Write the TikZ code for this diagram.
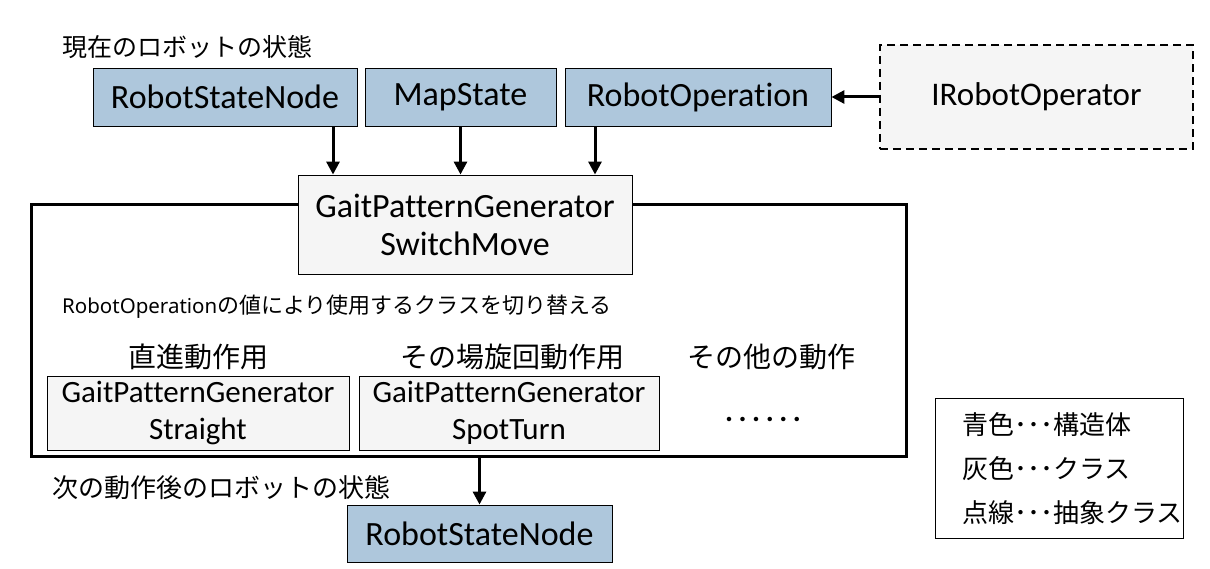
\documentclass[tikz,border=0pt]{standalone}
\usepackage{fontspec}
\setmainfont{Carlito}[Ligatures=NoCommon]
\newfontfamily\jp{Noto Sans CJK JP}
\newfontfamily\wide{Noto Sans}
\usetikzlibrary{arrows.meta}
\definecolor{blu}{RGB}{174,199,220}
\definecolor{gry}{RGB}{245,245,245}
\tikzset{
  fs/.style={font=\fontsize{#1}{#1}\selectfont},
  bluebox/.style={draw, fill=blu, line width=0.9pt, inner sep=0pt, fs=34},
  graybox/.style={draw, fill=gry, line width=0.9pt, inner sep=0pt, fs=34, align=center},
  arr/.style={line width=3pt, -{Triangle[length=13pt,width=13pt]}},
  lbl/.style={inner sep=0pt, anchor=west},
}
\begin{document}
\begin{tikzpicture}[x=1pt,y=-1pt]
\useasboundingbox (0,0) rectangle (1210,569);
% frame
\node[draw, line width=3pt, minimum width=875pt, minimum height=251pt, inner sep=0pt] (frame) at (468.5,330.5) {};
% top boxes
\node[bluebox, minimum width=264pt, minimum height=58pt] (rsn) at (225,97) {RobotStateNode};
\node[bluebox, minimum width=191pt, minimum height=58pt] (map) at (460.5,97) {MapState};
\node[bluebox, minimum width=266pt, minimum height=58pt] (rop) at (698,97) {RobotOperation};
\node[graybox, dashed, dash pattern=on 8pt off 5pt, line width=1.5pt, minimum width=313pt, minimum height=104pt, fs=33] (iro) at (1036.5,97) {IRobotOperator};
\node[lbl, fs=25] (t1) at (62,47) {\jp 現在のロボットの状態};
% switch box
\node[graybox, minimum width=334pt, minimum height=99pt, font=\fontsize{34}{38}\selectfont] (sw) at (465,224.5) {GaitPatternGenerator\\SwitchMove};
\node[lbl] (t2) at (62,307) {\wide\fontsize{20.5}{24}\selectfont RobotOperation\jp\fontsize{22}{24}\selectfont の値により使用するクラスを切り替える};
% sub labels
\node[inner sep=0pt, fs=28] (l1) at (198,357) {\jp 直進動作用};
\node[inner sep=0pt, fs=28] (l2) at (512,357) {\jp その場旋回動作用};
\node[inner sep=0pt, fs=28] (l3) at (771,357) {\jp その他の動作};
\node[graybox, minimum width=302pt, minimum height=74pt, font=\fontsize{31}{37}\selectfont] (str) at (198,413) {GaitPatternGenerator\\Straight};
\node[graybox, minimum width=300pt, minimum height=74pt, font=\fontsize{31}{37}\selectfont] (spot) at (509,413) {GaitPatternGenerator\\SpotTurn};
\node[inner sep=0pt, font=\bfseries\fontsize{30}{30}\selectfont] (dots) at (763,419) {.\hspace{5.5pt}.\hspace{5.5pt}.\hspace{5.5pt}.\hspace{5.5pt}.\hspace{5.5pt}.};
% bottom
\node[lbl, fs=26] (t3) at (52,488) {\jp 次の動作後のロボットの状態};
\node[bluebox, minimum width=265pt, minimum height=57pt] (out) at (479.5,533.5) {RobotStateNode};
% legend
\node[draw, line width=0.9pt, minimum width=248pt, minimum height=140pt, inner sep=0pt] (leg) at (1059,468) {};
\node[lbl, fs=26] (g1) at (962,425) {\jp 青色･･･構造体};
\node[lbl, fs=26] (g2) at (962,469) {\jp 灰色･･･クラス};
\node[lbl, fs=26] (g3) at (962,513) {\jp 点線･･･抽象クラス};
% arrows
\draw[arr] ([xshift=108pt]rsn.south) -- ([xshift=108pt]rsn.south |- sw.north);
\draw[arr] (map.south) -- (map.south |- sw.north);
\draw[arr] ([xshift=-103pt]rop.south) -- ([xshift=-103pt]rop.south |- sw.north);
\draw[arr] (iro.west) -- (rop.east);
\draw[arr] (frame.south -| out.north) -- (out.north);
\end{tikzpicture}
\end{document}
